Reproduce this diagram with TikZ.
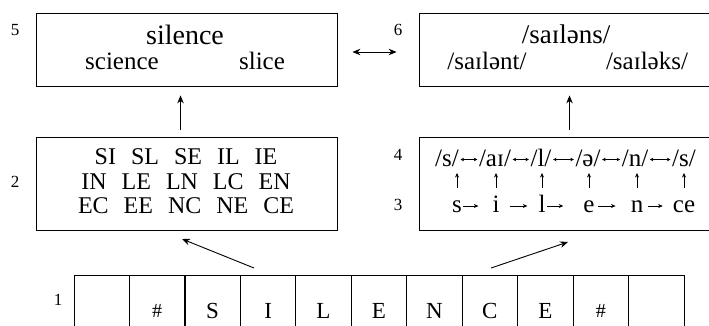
\documentclass[tikz,border=0pt]{standalone}
\usepackage{fontspec}
\setmainfont{Liberation Serif}
\usetikzlibrary{arrows.meta,positioning}

\begin{document}
\begin{tikzpicture}[x=1pt, y=-1pt]
		\tikzstyle{Box}		= [draw, line width=0.8pt, minimum width=301pt, inner sep=0pt]
		\tikzstyle{Cell}	= [draw, line width=0.8pt, minimum width=55.45pt, minimum height=72pt, inner sep=0pt, font=\fontsize{23}{27}\selectfont]
		\tikzstyle{Num}		= [font=\fontsize{17}{20}\selectfont]
		\tikzstyle{Big}		= [font=\fontsize{28}{32}\selectfont]
		\tikzstyle{Word}	= [font=\fontsize{25}{29}\selectfont]
		\tikzstyle{Pair}	= [font=\fontsize{24}{28}\selectfont]
		\tikzstyle{Ph}		= [inner sep=0pt, font=\fontsize{25}{29}\selectfont]
		\tikzstyle{Letter}	= [Ph, anchor=base]
		\tikzstyle{Arr}		= [-{Stealth[length=8pt, width=6.5pt]}, line width=0.9pt]
		\tikzstyle{Twin}	= [{Stealth[length=8pt, width=6.5pt]}-{Stealth[length=8pt, width=6.5pt]}, line width=0.9pt]
		\tikzstyle{Small}	= [-{Stealth[length=4.5pt, width=4pt]}, line width=0.6pt]
		\tikzstyle{SmallTwin}	= [{Stealth[length=3.5pt, width=3.5pt]}-{Stealth[length=3.5pt, width=3.5pt]}, line width=0.5pt]

		\useasboundingbox (0,0) rectangle (709,325);
		\clip (0,0) rectangle (709,325);

		% boxes
		\node (b5) at (186.5, 49.5) [Box, minimum height=73pt] {};
		\node (b6) at (569.5, 49.5) [Box, minimum height=73pt] {};
		\node (b2) at (186.5, 183.5) [Box, minimum height=93pt] {};
		\node (b3) at (569.5, 183.5) [Box, minimum height=93pt] {};

		% numbers
		\node (n5) at (15, 30) [Num] {5};
		\node (n6) at (398, 30) [Num] {6};
		\node (n2) at (15, 182) [Num] {2};
		\node (n4) at (398, 155) [Num] {4};
		\node (n3) at (398, 205) [Num] {3};
		\node (n1) at (58, 300) [Num] {1};

		% words
		\node (w1) at (185, 35) [Big] {silence};
		\node (w2) at (122, 61) [Word] {science};
		\node (w3) at (262, 61) [Word] {slice};
		\node (p1) at (566, 34) [font=\fontsize{27}{31}\selectfont] {/saɪləns/};
		\node (p2) at (487, 61) [Word] {/saɪlənt/};
		\node (p3) at (647, 61) [Word] {/saɪləks/};

		% pairs
		\node (r1) at (186, 157) [Pair] {SI\hspace{15pt}SL\hspace{15pt}SE\hspace{15pt}IL\hspace{15pt}IE};
		\node (r2) at (186, 182) [Pair] {IN\hspace{15pt}LE\hspace{15pt}LN\hspace{15pt}LC\hspace{15pt}EN};
		\node (r3) at (186, 206) [Pair] {EC\hspace{15pt}EE\hspace{15pt}NC\hspace{15pt}NE\hspace{15pt}CE};

		% phonemes
		\node (f1) at (447, 158) [Ph] {/s/};
		\node (f2) at (495, 158) [Ph] {/aɪ/};
		\node (f3) at (541, 158) [Ph] {/l/};
		\node (f4) at (588, 158) [Ph] {/ə/};
		\node (f5) at (635, 158) [Ph] {/n/};
		\node (f6) at (684, 158) [Ph] {/s/};

		% letters
		\node (l1) at (457, 212) [Letter] {s};
		\node (l2) at (496, 212) [Letter] {i};
		\node (l3) at (542, 212) [Letter] {l};
		\node (l4) at (589, 212) [Letter] {e};
		\node (l5) at (637, 212) [Letter] {n};
		\node (l6) at (684, 212) [Letter] {ce};

		% cells
		\node (c1) at (101.7, 311) [Cell] {};
		\node (c2) at (157.2, 311) [Cell] {\fontsize{20}{24}\selectfont\#};
		\node (c3) at (212.6, 311) [Cell] {S};
		\node (c4) at (268.1, 311) [Cell] {I};
		\node (c5) at (323.5, 311) [Cell] {L};
		\node (c6) at (379.0, 311) [Cell] {E};
		\node (c7) at (434.4, 311) [Cell] {N};
		\node (c8) at (489.9, 311) [Cell] {C};
		\node (c9) at (545.3, 311) [Cell] {E};
		\node (c10) at (600.8, 311) [Cell] {\fontsize{20}{24}\selectfont\#};
		\node (c11) at (656.2, 311) [Cell] {};

		\coordinate (t1) at (254, 268);
		\coordinate (h1) at (182, 239);
		\coordinate (t2) at (491, 268);
		\coordinate (h2) at (568, 242);

		% arrows
		\draw ([xshift=-6pt]b2.north) to ([xshift=-6pt]b5.south) [Arr, shorten <=7pt, shorten >=9pt];
		\draw (b3.north) to (b6.south) [Arr, shorten <=7pt, shorten >=9pt];
		\draw ([yshift=-2.5pt]b5.east) to ([yshift=-2.5pt]b6.west) [Twin, shorten <=15pt, shorten >=22pt];
		\draw (t1) to (h1) [Arr];
		\draw (t2) to (h2) [Arr];

		\draw ([yshift=-1.5pt]f1.east) to ([yshift=-1.5pt]f2.west) [SmallTwin, shorten <=1.5pt, shorten >=1.5pt];
		\draw ([yshift=-1.5pt]f2.east) to ([yshift=-1.5pt]f3.west) [SmallTwin, shorten <=1.5pt, shorten >=1.5pt];
		\draw ([yshift=-1.5pt]f3.east) to ([yshift=-1.5pt]f4.west) [SmallTwin, shorten <=1.5pt, shorten >=1.5pt];
		\draw ([yshift=-1.5pt]f4.east) to ([yshift=-1.5pt]f5.west) [SmallTwin, shorten <=1.5pt, shorten >=1.5pt];
		\draw ([yshift=-1.5pt]f5.east) to ([yshift=-1.5pt]f6.west) [SmallTwin, shorten <=1.5pt, shorten >=1.5pt];

		\draw ([yshift=6pt]l1.base east) to ([yshift=6pt]l2.base west) [Small, shorten <=1pt, shorten >=14pt];
		\draw ([yshift=6pt]l2.base east) to ([yshift=6pt]l3.base west) [Small, shorten <=10pt, shorten >=11pt];
		\draw ([yshift=6pt]l3.base east) to ([yshift=6pt]l4.base west) [Small, shorten <=1.5pt, shorten >=20pt];
		\draw ([yshift=6pt]l4.base east) to ([yshift=6pt]l5.base west) [Small, shorten <=3.5pt, shorten >=15pt];
		\draw ([yshift=6pt]l5.base east) to ([yshift=6pt]l6.base west) [Small, shorten <=4.5pt, shorten >=10pt];

		\draw (l1.north |- 0,188) to (l1.north |- 0,173) [Small];
		\draw (l2.north |- 0,188) to (l2.north |- 0,173) [Small];
		\draw (l3.north |- 0,188) to (l3.north |- 0,173) [Small];
		\draw (l4.north |- 0,188) to (l4.north |- 0,173) [Small];
		\draw (l5.north |- 0,188) to (l5.north |- 0,173) [Small];
		\draw (l6.north |- 0,188) to (l6.north |- 0,173) [Small];
\end{tikzpicture}
\end{document}
